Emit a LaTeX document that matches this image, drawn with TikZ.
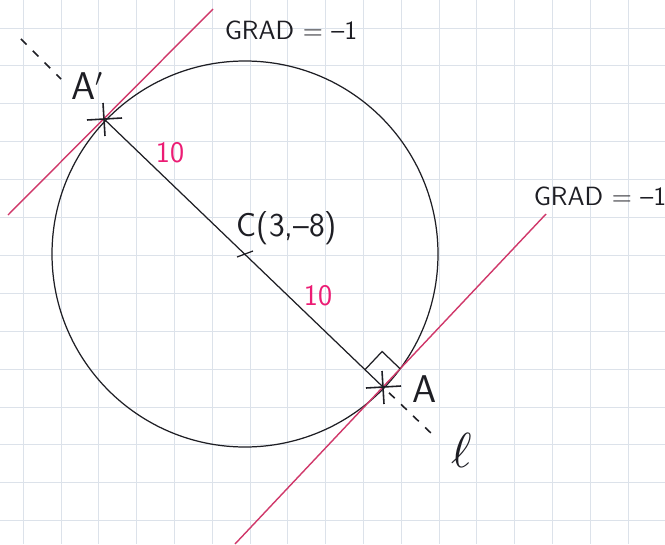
\documentclass[tikz,border=0pt]{standalone}
\usepackage{xcolor}
\definecolor{gpaper}{HTML}{DCE2EA}
\definecolor{gred}{HTML}{D0386A}
\definecolor{gpink}{HTML}{EC1C74}
\definecolor{gink}{HTML}{1E1E24}
\usepackage{tikz}
\usetikzlibrary{calc}

\begin{document}
\begin{tikzpicture}[x=0.02cm,y=-0.02cm,
  paper/.style={draw=gpaper,line width=0.5pt},
  tangent/.style={draw=gred,line width=0.8pt},
  ink/.style={draw=gink,line width=0.7pt},
  dots/.style={draw=gink,line width=0.9pt,dash pattern=on 4.5pt off 5pt},
  hand/.style={font=\fontsize{15}{17}\selectfont\sffamily,text=gink,inner sep=1pt},
  big/.style={hand,font=\fontsize{22}{24}\selectfont\sffamily},
  len/.style={font=\fontsize{17}{19}\selectfont\sffamily,text=gpink,inner sep=1pt}]
\useasboundingbox[fill=white] (0,0) rectangle (665,544);
\foreach \i in {0,...,16}
  \draw[paper] ({23.2+37.8*\i},0) -- ({23.2+37.8*\i},544);
\foreach \j in {0,...,13}
  \draw[paper] (0,{28+37.9*\j}) -- (665,{28+37.9*\j});

\coordinate (C) at (245,254);
\coordinate (Ap) at (104,119);
\coordinate (A) at (383,387);
\coordinate (t1a) at (8,215);
\coordinate (t1b) at (213,9);
\coordinate (t2a) at (235,544);
\coordinate (t2b) at (546,214);
\coordinate (l1) at (21,39);
\coordinate (l1e) at (61,79);
\coordinate (l2) at (433,435);

\draw[ink] (C) circle[radius=193];
\draw[ink] (Ap) -- (A);
\draw[tangent] (t1a) -- (t1b);
\draw[tangent] (t2a) -- (t2b);
\foreach \p in {Ap,A}
  \draw[ink,line width=0.9pt] ($(\p)+(-17,1)$) -- ($(\p)+(18,-1)$)
    ($(\p)+(-1,-16)$) -- ($(\p)+(1,17)$);
\draw[ink] ($(C)+(-8,3)$) -- ($(C)+(8,-3)$);
\draw[dots] (l1) -- (l1e);
\draw[dots] ($(A)!0.12!(l2)$) -- (l2);

\coordinate (rq1) at ($(A)!0.5cm!(Ap)$);
\coordinate (rq2) at ($(A)!0.5cm!(t2b)$);
\draw[ink] (rq1) -- ($(rq1)+(rq2)-(A)$) -- (rq2);

\node[big] (lblAp) at (87,86) {A$'$};
\node[big] (lblA) at (425,389) {A};
\node[hand,font=\fontsize{19}{21}\selectfont\sffamily] (lblC) at (287,228) {C(3,--8)};
\node[hand] (grad1) at (291,30) {GRAD = --1};
\node[hand] (grad2) at (600,196) {GRAD = --1};
\node[len] (len1) at (170,153) {10};
\node[len] (len2) at (318,296) {10};
\node[text=gink,scale=2.8] (lbll) at (462,450) {$\ell$};
\end{tikzpicture}
\end{document}
